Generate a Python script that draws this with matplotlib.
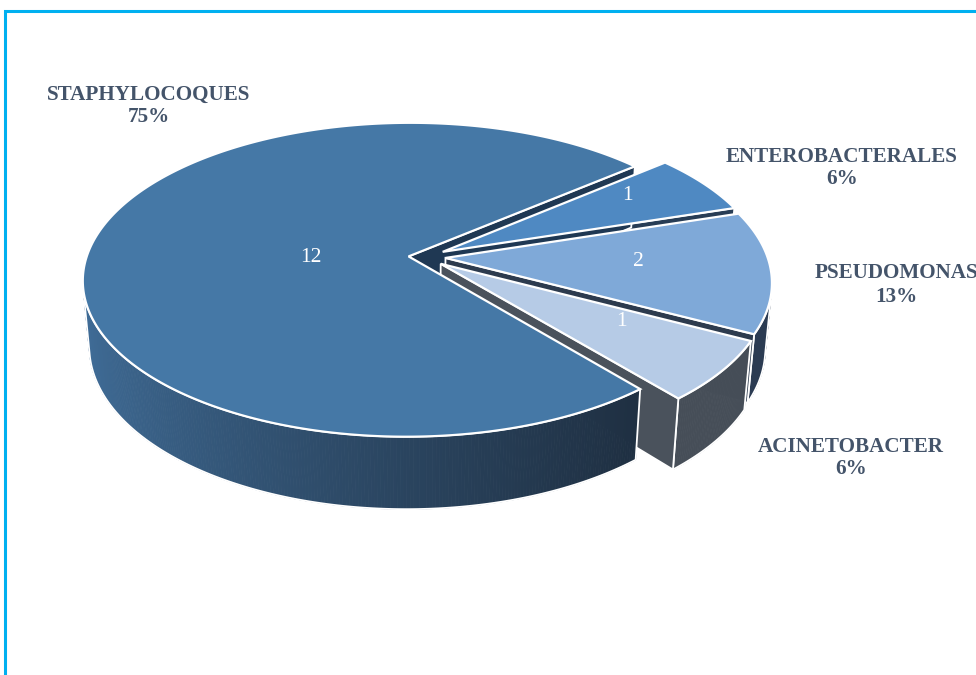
import numpy as np
import matplotlib
matplotlib.use('Agg')
import matplotlib.pyplot as plt
from matplotlib.patches import Polygon
from matplotlib.colors import to_rgb

# germ counts per family
labels = ['STAPHYLOCOQUES', 'ENTEROBACTERALES', 'PSEUDOMONAS', 'ACINETOBACTER']
counts = [12, 1, 2, 1]
pct_labels = ['75%', '6%', '13%', '6%']

top_colors = ['#4578a6', '#4f89c2', '#7fa9d8', '#b6cbe6']
side_light = ['#416f9b', '#2c4561', '#2f4159', '#4b535d']
side_dark = ['#1d2c3d', '#22364d', '#2b3b52', '#464e58']
cut_colors = ['#1f3853', '#283d55', '#2d3b4e', '#4a525c']

# pie geometry (radius = 1), screen scale in pixels
start_angle = -50.0
explode = [0.045, 0.07, 0.07, 0.07]
height = 0.235
tilt = np.radians(28.5)
cam_dist = 5.9
scale_px = 322
center = (423, 257)

# label layout (pixels)
outer_pos = [(149, 106), (842, 168), (896, 285), (851, 458)]
inner_pos = [(311, 257), (627, 196), (638, 262), (621, 321)]

W, H = 976, 675
fig = plt.figure(figsize=(W / 100, H / 100), dpi=100)
ax = fig.add_axes([0, 0, 1, 1])
ax.set_xlim(0, W)
ax.set_ylim(H, 0)
ax.axis('off')

cam = cam_dist * np.array([0.0, np.sin(tilt), np.cos(tilt)])


def proj(x, y, z):
    x, y, z = np.broadcast_arrays(np.asarray(x, float), np.asarray(y, float), np.asarray(z, float))
    v = y * np.cos(tilt) - z * np.sin(tilt)
    w = z * np.cos(tilt) + y * np.sin(tilt)
    s = cam_dist / (cam_dist - w)
    return center[0] + scale_px * x * s, center[1] - scale_px * v * s, w


def facing(normal, point):
    return np.dot(normal, cam - point) > 0


def mix(c1, c2, t):
    a, b = np.array(to_rgb(c1)), np.array(to_rgb(c2))
    return tuple(a + (b - a) * t)


total = float(sum(counts))
fracs = [c / total for c in counts]
bounds = []
a = start_angle
for f in fracs:
    # slices run clockwise from the start angle
    bounds.append((a - f * 360.0, a))
    a -= f * 360.0

faces = []   # (depth, kind, data)
tops = []
for i, (a0, a1) in enumerate(bounds):
    mid = np.radians((a0 + a1) / 2)
    ox, oz = explode[i] * np.cos(mid), -explode[i] * np.sin(mid)
    th = np.radians(np.linspace(a0, a1, int(abs(a1 - a0) * 2) + 2))
    xs = ox + np.cos(th)
    zs = oz - np.sin(th)

    # top face
    px, py, _ = proj(np.r_[ox, xs], 0.0, np.r_[oz, zs])
    tops.append((np.column_stack([px, py]), top_colors[i]))

    # outer wall, front-facing part only
    vis = np.array([facing(np.array([np.cos(t), 0, -np.sin(t)]),
                           np.array([ox + np.cos(t), -height / 2, oz - np.sin(t)])) for t in th])
    if vis.sum() > 1:
        idx = np.where(vis)[0]
        tx, tz, tt = xs[idx], zs[idx], th[idx]
        ux, uy, uw = proj(tx, 0.0, tz)
        lx, ly, _ = proj(tx, -height, tz)
        quads = []
        for k in range(len(idx) - 1):
            q = [(ux[k], uy[k]), (ux[k + 1], uy[k + 1]), (lx[k + 1], ly[k + 1]), (lx[k], ly[k])]
            t = np.clip((np.cos(tt[k]) + 1.0) / 1.75, 0, 1) ** 0.8
            quads.append((q, mix(side_light[i], side_dark[i], t)))
        outline = np.column_stack([np.r_[ux, lx[::-1]], np.r_[uy, ly[::-1]]])
        faces.append((uw.max(), 'wall', (quads, outline)))

    # radial cut faces
    for ang, sgn in ((a0, -1), (a1, 1)):
        r = np.radians(ang)
        n_ang = r + sgn * np.pi / 2
        normal = np.array([np.cos(n_ang), 0, -np.sin(n_ang)])
        mid_pt = np.array([ox + 0.5 * np.cos(r), -height / 2, oz - 0.5 * np.sin(r)])
        if not facing(normal, mid_pt):
            continue
        ex, ez = ox + np.cos(r), oz - np.sin(r)
        qx, qy, qw = proj([ox, ex, ex, ox], [0, 0, -height, -height], [oz, ez, ez, oz])
        faces.append((qw.max(), 'cut', (np.column_stack([qx, qy]), cut_colors[i])))

faces.sort(key=lambda f: f[0])
for _, kind, data in faces:
    if kind == 'wall':
        quads, outline = data
        for q, c in quads:
            ax.add_patch(Polygon(q, closed=True, facecolor=c, edgecolor=c, lw=0.6))
        ax.add_patch(Polygon(outline, closed=True, fill=False, edgecolor='white', lw=1.3))
    else:
        poly, c = data
        ax.add_patch(Polygon(poly, closed=True, facecolor=c, edgecolor='white', lw=1.3))

for poly, c in tops:
    ax.add_patch(Polygon(poly, closed=True, facecolor=c, edgecolor='white', lw=1.6))

# value labels inside the slices
for (x, y), n in zip(inner_pos, counts):
    ax.text(x, y, str(n), color='white', fontsize=15.5, family='Liberation Serif',
            ha='center', va='center')

# category and percentage labels
for i, (x, y) in enumerate(outer_pos):
    ax.text(x, y, labels[i] + '\n' + pct_labels[i], color='#44546a', fontsize=15.2,
            family='Liberation Serif', fontweight='bold', ha='center', va='center',
            linespacing=1.2)

# frame of the chart area
ax.plot([5, 5, W], [H, 11, 11], color='#00b0f0', lw=2.2, solid_joinstyle='miter')

fig.savefig('out.png', dpi=100)
